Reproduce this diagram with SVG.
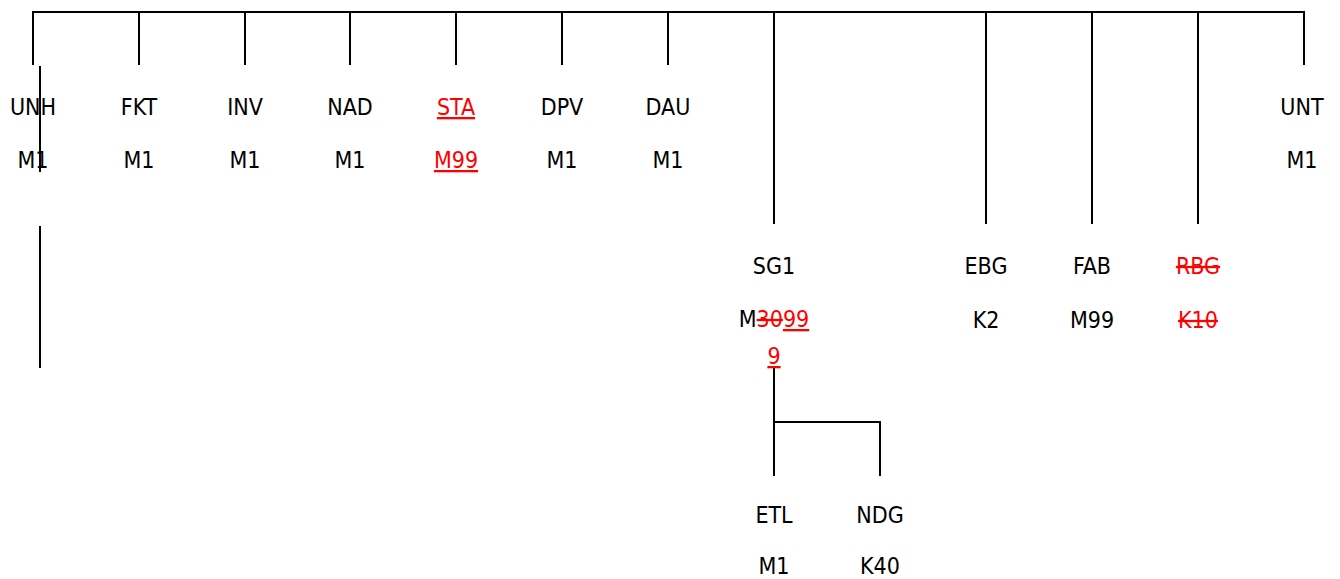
<svg xmlns="http://www.w3.org/2000/svg" width="1340" height="579" viewBox="0 0 1340 579">
<style>
text{font-family:"DejaVu Sans Condensed","DejaVu Sans","Liberation Sans",sans-serif;font-size:23px;fill:#000;text-anchor:middle}
.r{fill:#ff0000}
.u{text-decoration:underline}
.s{text-decoration:line-through}
line{stroke:#000;stroke-width:2}
</style>
<rect width="1340" height="579" fill="#fff"/>
<g id="connectors">
<line x1="32" y1="12" x2="1305" y2="12"/>
<line x1="33" y1="12" x2="33" y2="65"/>
<line x1="139" y1="12" x2="139" y2="65"/>
<line x1="245" y1="12" x2="245" y2="65"/>
<line x1="350" y1="12" x2="350" y2="65"/>
<line x1="456" y1="12" x2="456" y2="65"/>
<line x1="562" y1="12" x2="562" y2="65"/>
<line x1="668" y1="12" x2="668" y2="65"/>
<line x1="1304" y1="12" x2="1304" y2="65"/>
<line x1="774" y1="12" x2="774" y2="224"/>
<line x1="986" y1="12" x2="986" y2="224"/>
<line x1="1092" y1="12" x2="1092" y2="224"/>
<line x1="1198" y1="12" x2="1198" y2="224"/>
<line x1="40" y1="66" x2="40" y2="172"/>
<line x1="40" y1="226" x2="40" y2="368"/>
<line x1="774" y1="368" x2="774" y2="476"/>
<line x1="774" y1="422" x2="881" y2="422"/>
<line x1="880" y1="421" x2="880" y2="476"/>
</g>
<g id="UNH"><text x="33" y="115">UNH</text><text x="33" y="168">M1</text></g>
<g id="FKT"><text x="139" y="115">FKT</text><text x="139" y="168">M1</text></g>
<g id="INV"><text x="245" y="115">INV</text><text x="245" y="168">M1</text></g>
<g id="NAD"><text x="350" y="115">NAD</text><text x="350" y="168">M1</text></g>
<g id="STA"><text x="456" y="115" class="r u">STA</text><text x="456" y="168" class="r u">M99</text></g>
<g id="DPV"><text x="562" y="115">DPV</text><text x="562" y="168">M1</text></g>
<g id="DAU"><text x="668" y="115">DAU</text><text x="668" y="168">M1</text></g>
<g id="UNT"><text x="1302" y="115">UNT</text><text x="1302" y="168">M1</text></g>
<g id="SG1"><text x="774" y="274">SG1</text><text x="774" y="327">M<tspan class="r s">30</tspan><tspan class="r u">99</tspan></text><text x="774" y="364" class="r u">9</text></g>
<g id="EBG"><text x="986" y="274">EBG</text><text x="986" y="328">K2</text></g>
<g id="FAB"><text x="1092" y="274">FAB</text><text x="1092" y="328">M99</text></g>
<g id="RBG"><text x="1198" y="274" class="r s">RBG</text><text x="1198" y="328" class="r s">K10</text></g>
<g id="ETL"><text x="774" y="523">ETL</text><text x="774" y="574">M1</text></g>
<g id="NDG"><text x="880" y="523">NDG</text><text x="880" y="574">K40</text></g>
</svg>
